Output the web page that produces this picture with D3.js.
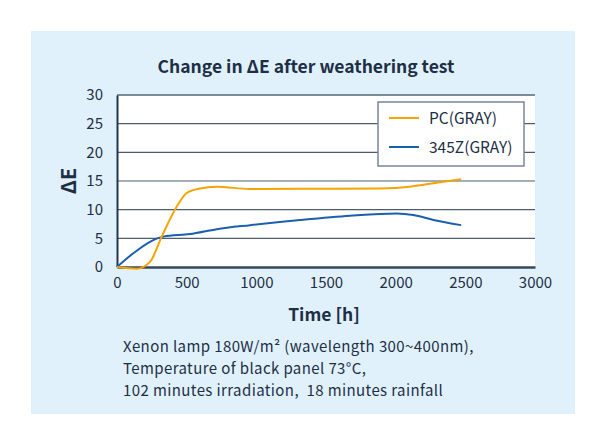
<!DOCTYPE html>
<html>
<head>
<meta charset="utf-8">
<script src="https://cdn.jsdelivr.net/npm/d3@7/dist/d3.min.js"></script>
<style>
  html, body { margin: 0; padding: 0; background: #ffffff; }
  svg { display: block; }
  text { font-family: "Noto Sans CJK JP", "Noto Sans", sans-serif; fill: #1c2f45; }
</style>
</head>
<body>
<svg id="chart" width="606" height="445"></svg>
<script>
const title = "Change in \u0394E after weathering test";
const xLabel = "Time [h]";
const yLabel = "\u0394E";
const xTicks = [0, 500, 1000, 1500, 2000, 2500, 3000];
const yTicks = [0, 5, 10, 15, 20, 25, 30];
const seriesNames = ["PC(GRAY)", "345Z(GRAY)"];
const seriesColors = ["#f5a400", "#1a60ad"];
const pcHours  = [0, 140, 237, 321, 428, 500, 596, 715, 955, 1314, 1888, 2103, 2269, 2470];
const pcValues = [0, -0.3, 0.9, 5.3, 10.5, 12.9, 13.7, 14.0, 13.6, 13.65, 13.7, 14.0, 14.6, 15.3];
const zHours   = [0, 117, 237, 333, 524, 715, 955, 1314, 1673, 2008, 2127, 2271, 2470];
const zValues  = [0, 2.4, 4.4, 5.3, 5.75, 6.6, 7.3, 8.2, 8.95, 9.35, 9.07, 8.2, 7.3];
const notes = [
  "Xenon lamp 180W/m\u00b2 (wavelength 300~400nm),",
  "Temperature of black panel 73\u00b0C,",
  "102 minutes irradiation,  18 minutes rainfall"
];

const FONT = '"Noto Sans CJK JP", "Noto Sans", sans-serif';
const svg = d3.select("#chart");
svg.append("rect").attr("x", 31).attr("y", 31).attr("width", 544).attr("height", 383).attr("fill", "#e1f1fc");

const L = 117, R = 535, T = 95, B = 267;
const x = d3.scaleLinear().domain([0, 3000]).range([L, R]);
const y = d3.scaleLinear().domain([0, 30]).range([B, T]);

svg.append("rect").attr("x", L).attr("y", T).attr("width", R - L).attr("height", B - T).attr("fill", "#ffffff");

// grid
svg.append("g").selectAll("line").data(yTicks.filter(d => d > 0)).join("line")
  .attr("x1", L).attr("x2", R).attr("y1", d => y(d)).attr("y2", d => y(d))
  .attr("stroke", d => d === 30 ? "#7d8b98" : "#4d5d6d").attr("stroke-width", d => d === 30 ? 2 : 1.2);

// y axis
const yAxis = svg.append("g").attr("transform", `translate(${L},0)`)
  .call(d3.axisLeft(y).tickValues(yTicks).tickSize(0).tickPadding(14));
yAxis.select(".domain").attr("stroke", "#1d3850").attr("stroke-width", 2);
yAxis.selectAll("text").attr("font-size", 15).attr("fill", "#1c2f45").style("font-family", FONT);

// x axis
const xAxis = svg.append("g").attr("transform", `translate(0,${B})`)
  .call(d3.axisBottom(x).tickValues(xTicks).tickFormat(d3.format("d")).tickSize(0).tickPadding(10));
xAxis.select(".domain").attr("stroke", "#34495e").attr("stroke-width", 2.5);
xAxis.selectAll("text").attr("font-size", 15).attr("fill", "#1c2f45").style("font-family", FONT);

// lines
const line = d3.line().x(d => x(d[0])).y(d => y(d[1])).curve(d3.curveMonotoneX);
const pcData = pcHours.map((h, i) => [h, pcValues[i]]);
const zData = zHours.map((h, i) => [h, zValues[i]]);
svg.append("path").datum(zData).attr("d", line).attr("fill", "none").attr("stroke", seriesColors[1]).attr("stroke-width", 2);
svg.append("path").datum(pcData).attr("d", line).attr("fill", "none").attr("stroke", seriesColors[0]).attr("stroke-width", 2);

// legend
const lg = svg.append("g");
lg.append("rect").attr("x", 378).attr("y", 102).attr("width", 146).attr("height", 64)
  .attr("fill", "#ffffff").attr("stroke", "#77879a").attr("stroke-width", 1.5);
seriesNames.forEach((n, i) => {
  const yy = 118 + i * 29;
  lg.append("line").attr("x1", 389).attr("x2", 419).attr("y1", yy).attr("y2", yy)
    .attr("stroke", seriesColors[i]).attr("stroke-width", 2);
  lg.append("text").attr("x", 429).attr("y", yy + 5.5).attr("font-size", 15.5).text(n);
});

// title
svg.append("text").attr("x", 306).attr("y", 73).attr("text-anchor", "middle")
  .attr("font-size", 17.5).attr("font-weight", 700).text(title);

// axis labels
svg.append("text").attr("x", 324).attr("y", 321).attr("text-anchor", "middle")
  .attr("font-size", 17.5).attr("font-weight", 700).text(xLabel);
svg.append("text").attr("transform", "translate(76,181) rotate(-90)").attr("text-anchor", "middle")
  .attr("font-size", 20).attr("font-weight", 700).text(yLabel);

// notes
svg.append("g").selectAll("text").data(notes).join("text")
  .attr("x", 123).attr("y", (d, i) => 352 + i * 21.8)
  .attr("font-size", 15).attr("letter-spacing", 0.4)
  .style("white-space", "pre").text(d => d);
</script>
</body>
</html>
